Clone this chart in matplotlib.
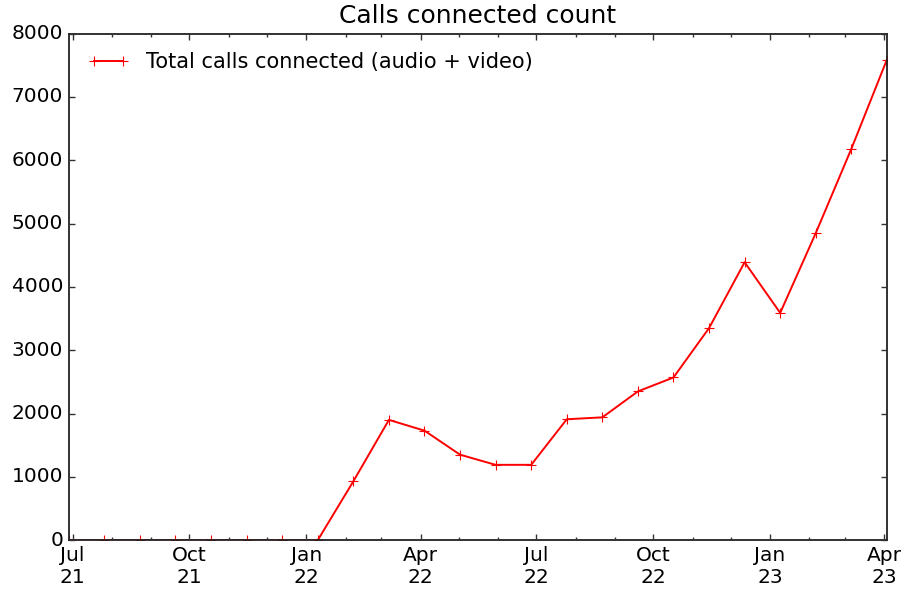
import matplotlib
matplotlib.use('Agg')
import matplotlib.pyplot as plt
import matplotlib.dates as mdates
import pandas as pd

# 4-weekly periods, first one starting 28 Jun 2021
datas = pd.date_range('2021-06-28', periods=24, freq='28D')
chamadas = [0, 0, 0, 0, 0, 0, 0, 0,
            930, 1900, 1730, 1350, 1190, 1190, 1910, 1940,
            2350, 2570, 3350, 4390, 3590, 4850, 6180, 7590]

plt.style.use('classic')
plt.rcParams['font.family'] = ['DejaVu Sans']

fig = plt.figure(figsize=(9.05, 5.91), dpi=100, facecolor='white')
ax = fig.add_axes([0.076, 0.086, 0.904, 0.857])

ax.plot(datas, chamadas, color='red', marker='+', linestyle='-',
        linewidth=1.4, markersize=7, markeredgewidth=0.8,
        label='Total calls connected (audio + video)')

ax.set_title('Calls connected count', fontsize=18, pad=8)
ax.set_xlim(datas[0], datas[-1])
ax.set_ylim(0, 8000)

ax.xaxis.set_major_locator(mdates.MonthLocator(bymonth=[1, 4, 7, 10]))
ax.xaxis.set_minor_locator(mdates.MonthLocator())
ax.xaxis.set_major_formatter(mdates.DateFormatter('%b\n%y'))
ax.tick_params(axis='both', which='major', labelsize=14.5, width=1.0, color='#333333')
ax.tick_params(axis='both', which='minor', width=1.0, color='#333333')
for lado in ax.spines.values():
    lado.set_linewidth(1.3)
    lado.set_color('#222222')

ax.legend(loc='upper left', frameon=False, fontsize=15)

plt.savefig('out.png', dpi=100, facecolor='white')
